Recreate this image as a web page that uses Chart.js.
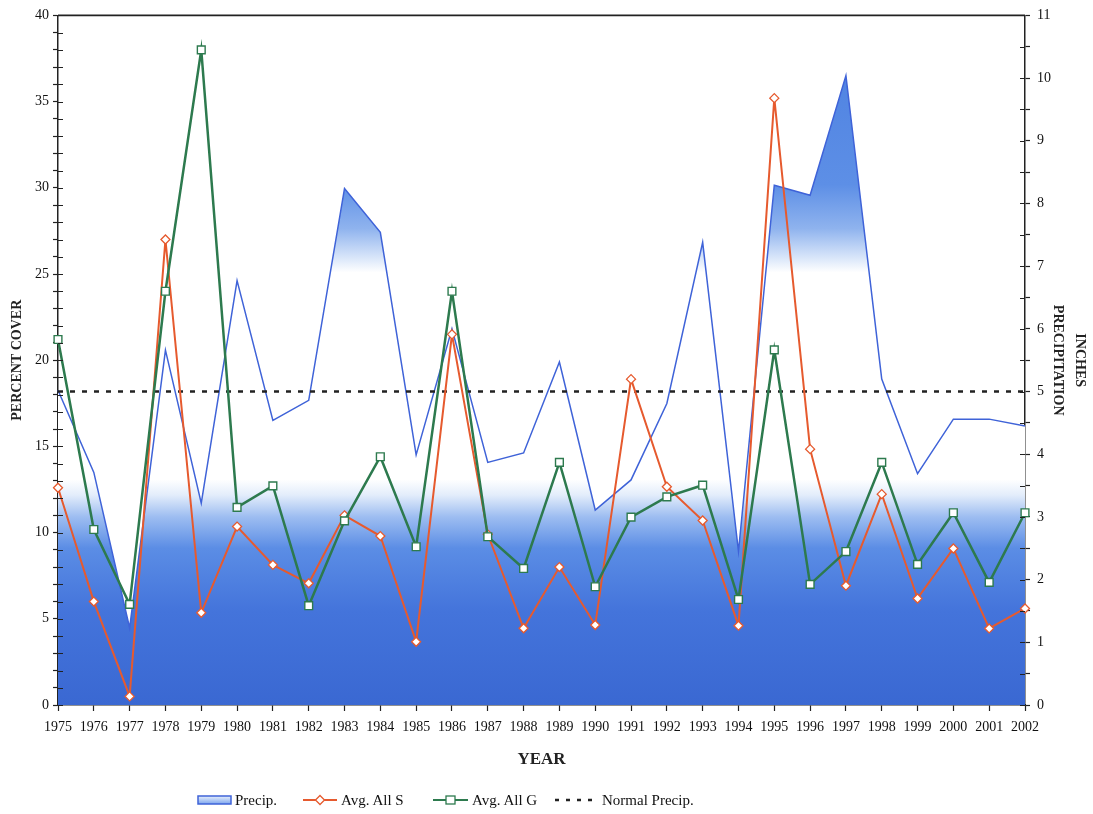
<!DOCTYPE html>
<html>
<head>
<meta charset="utf-8">
<script src="https://cdn.jsdelivr.net/npm/chart.js@4.4.1/dist/chart.umd.min.js"></script>
<style>
  body { margin: 0; background: #fff; }
  #wrap { position: relative; width: 1093px; height: 814px; }
  #legend { position: absolute; left: 0; top: 0; width: 1093px; height: 814px; pointer-events: none;
            font-family: "Liberation Serif", serif; font-size: 15px; color: #111; }
  #legend .it { position: absolute; top: 791px; line-height: 18px; white-space: nowrap; }
  #legend svg { position: absolute; top: 791px; }
</style>
</head>
<body>
<div id="wrap">
  <canvas id="c" width="1093" height="814"></canvas>
  <div id="legend">
    <svg style="left:197px" width="36" height="18">
      <defs><linearGradient id="lg" x1="0" y1="0" x2="0" y2="1">
        <stop offset="0" stop-color="#e8f0fc"/><stop offset="1" stop-color="#7ea6ee"/></linearGradient></defs>
      <rect x="1" y="5" width="33" height="8" fill="url(#lg)" stroke="#3f63d8" stroke-width="1.5"/>
    </svg>
    <span class="it" style="left:235px">Precip.</span>
    <svg style="left:303px" width="36" height="18">
      <line x1="0" y1="9" x2="34" y2="9" stroke="#e65a2e" stroke-width="2"/>
      <polygon points="17,4.5 21.5,9 17,13.5 12.5,9" fill="#fff" stroke="#e65a2e" stroke-width="1.3"/>
    </svg>
    <span class="it" style="left:341px">Avg. All S</span>
    <svg style="left:433px" width="36" height="18">
      <line x1="0" y1="9" x2="35" y2="9" stroke="#2d7a4e" stroke-width="2"/>
      <rect x="13" y="5" width="9" height="8" fill="#fff" stroke="#2d7a4e" stroke-width="1.3"/>
    </svg>
    <span class="it" style="left:472px">Avg. All G</span>
    <svg style="left:555px" width="40" height="18">
      <line x1="0" y1="9" x2="39" y2="9" stroke="#222" stroke-width="2.5" stroke-dasharray="4,7"/>
    </svg>
    <span class="it" style="left:602px">Normal Precip.</span>
  </div>
</div>
<script>
const years = [1975, 1976, 1977, 1978, 1979, 1980, 1981, 1982, 1983, 1984, 1985, 1986, 1987, 1988,
               1989, 1990, 1991, 1992, 1993, 1994, 1995, 1996, 1997, 1998, 1999, 2000, 2001, 2002];

// inches, right axis
const precip = [5.02, 3.71, 1.23, 5.66, 3.22, 6.77, 4.54, 4.86, 8.24, 7.54, 3.99, 6.0, 3.87, 4.02,
                5.47, 3.11, 3.59, 4.81, 7.38, 2.45, 8.29, 8.13, 10.04, 5.2, 3.69, 4.56, 4.56, 4.45];
const normalPrecip = years.map(() => 5.0);

// percent cover, left axis
const avgAllS = [12.6, 6.0, 0.5, 27.0, 5.35, 10.35, 8.13, 7.06, 11.0, 9.8, 3.67, 21.5, 9.9, 4.45,
                 8.0, 4.64, 18.9, 12.66, 10.7, 4.6, 35.2, 14.84, 6.92, 12.23, 6.18, 9.08, 4.44, 5.6];
const avgAllG = [21.2, 10.18, 5.84, 24.0, 38.0, 11.46, 12.71, 5.76, 10.68, 14.4, 9.18, 24.0, 9.76, 7.92,
                 14.07, 6.86, 10.9, 12.07, 12.75, 6.12, 20.6, 7.0, 8.9, 14.07, 8.16, 11.15, 7.11, 11.15];

const serif = '"Liberation Serif", "Times New Roman", serif';
const ink = '#222';

// blue fading to white in the middle band, then blue again for the wet years
function precipFill(ctx) {
  const chart = ctx.chart;
  if (!chart.chartArea) return null;
  const s = chart.scales.y1;
  const g = chart.ctx.createLinearGradient(0, s.getPixelForValue(0), 0, s.getPixelForValue(11));
  const stops = [[0, '#3a68d2'], [1.5, '#4474db'], [2.5, '#5b8de5'], [3.0, '#9dbdf1'], [3.35, '#e3edfb'],
                 [3.6, '#ffffff'], [6.9, '#ffffff'], [7.15, '#d6e4f9'], [7.6, '#8fb3ee'], [8.3, '#5d8fe6'],
                 [11, '#4a7ee0']];
  stops.forEach(([v, c]) => g.addColorStop(v / 11, c));
  return g;
}

// ticks that cross the axis lines plus the top frame line
const frame = {
  id: 'frame',
  afterDatasetsDraw(chart) {
    const {ctx, chartArea: a, scales} = chart;
    ctx.save();
    ctx.strokeStyle = ink;
    ctx.lineWidth = 1.2;
    ctx.beginPath();
    scales.y.ticks.forEach(t => {
      const p = Math.round(scales.y.getPixelForValue(t.value)) + 0.5;
      ctx.moveTo(a.left, p); ctx.lineTo(a.left + 5, p);
    });
    scales.y1.ticks.forEach(t => {
      const p = Math.round(scales.y1.getPixelForValue(t.value)) + 0.5;
      ctx.moveTo(a.right, p); ctx.lineTo(a.right - 5, p);
    });
    ctx.stroke();
    ctx.lineWidth = 1.8;
    ctx.beginPath();
    ctx.moveTo(a.left, a.top); ctx.lineTo(a.right, a.top);
    ctx.stroke();
    ctx.restore();
  }
};

new Chart(document.getElementById('c'), {
  type: 'line',
  data: {
    labels: years,
    datasets: [{
      label: 'Precip.',
      data: precip,
      yAxisID: 'y1',
      borderColor: '#3f63d8',
      borderWidth: 1.5,
      backgroundColor: precipFill,
      fill: 'origin',
      pointRadius: 0,
      order: 4
    }, {
      label: 'Normal Precip.',
      data: normalPrecip,
      yAxisID: 'y1',
      borderColor: '#222',
      borderWidth: 2.5,
      borderDash: [5, 7],
      pointRadius: 0,
      fill: false,
      order: 3
    }, {
      label: 'Avg. All S',
      data: avgAllS,
      yAxisID: 'y',
      borderColor: '#e65a2e',
      borderWidth: 2,
      pointStyle: 'rectRot',
      pointRadius: 4.5,
      pointBackgroundColor: '#fff',
      pointBorderColor: '#e65a2e',
      pointBorderWidth: 1.3,
      fill: false,
      order: 2
    }, {
      label: 'Avg. All G',
      data: avgAllG,
      yAxisID: 'y',
      borderColor: '#2d7a4e',
      borderWidth: 2.5,
      pointStyle: 'rect',
      pointRadius: 5.5,
      pointBackgroundColor: '#fff',
      pointBorderColor: '#2d7a4e',
      pointBorderWidth: 1.4,
      fill: false,
      order: 1
    }]
  },
  options: {
    responsive: false,
    animation: false,
    devicePixelRatio: 1,
    layout: { padding: { top: 15, left: 0, right: 0, bottom: 44 } },
    plugins: { legend: { display: false }, tooltip: { enabled: false } },
    scales: {
      x: {
        offset: false,
        afterFit(s) { s.height = 65; },
        grid: { drawOnChartArea: false, drawTicks: true, tickLength: 6, color: ink, tickWidth: 1.2 },
        border: { display: true, color: ink, width: 1.5 },
        ticks: { autoSkip: false, maxRotation: 0, padding: 8, color: '#111',
                 font: { family: serif, size: 14 } },
        title: { display: true, text: 'YEAR', color: '#222', padding: { top: 0, bottom: 0 },
                 font: { family: serif, size: 17, weight: 'bold' } }
      },
      y: {
        position: 'left',
        min: 0, max: 40,
        afterFit(s) { s.width = 58; },
        grid: { drawOnChartArea: false, drawTicks: true, tickLength: 5, color: ink, tickWidth: 1.2 },
        border: { display: true, color: ink, width: 1.5 },
        ticks: { stepSize: 1, autoSkip: false, padding: 4, color: '#111',
                 font: { family: serif, size: 14 },
                 callback: v => (v % 5 === 0 ? v : '') },
        title: { display: true, text: 'PERCENT COVER', color: '#222', padding: { top: 9, bottom: 0 },
                 font: { family: serif, size: 14, weight: 'bold' } }
      },
      y1: {
        position: 'right',
        min: 0, max: 11,
        afterFit(s) { s.width = 68; },
        grid: { drawOnChartArea: false, drawTicks: true, tickLength: 5, color: ink, tickWidth: 1.2 },
        border: { display: true, color: ink, width: 1.5 },
        ticks: { stepSize: 0.5, autoSkip: false, padding: 7, color: '#111',
                 font: { family: serif, size: 14 },
                 callback: v => (Number.isInteger(v) ? v : '') },
        title: { display: true, text: ['INCHES', 'PRECIPITATION'], color: '#222',
                 padding: { top: 2, bottom: 0 },
                 font: { family: serif, size: 14, weight: 'bold', lineHeight: 1.57 } }
      }
    }
  },
  plugins: [frame]
});
</script>
</body>
</html>
